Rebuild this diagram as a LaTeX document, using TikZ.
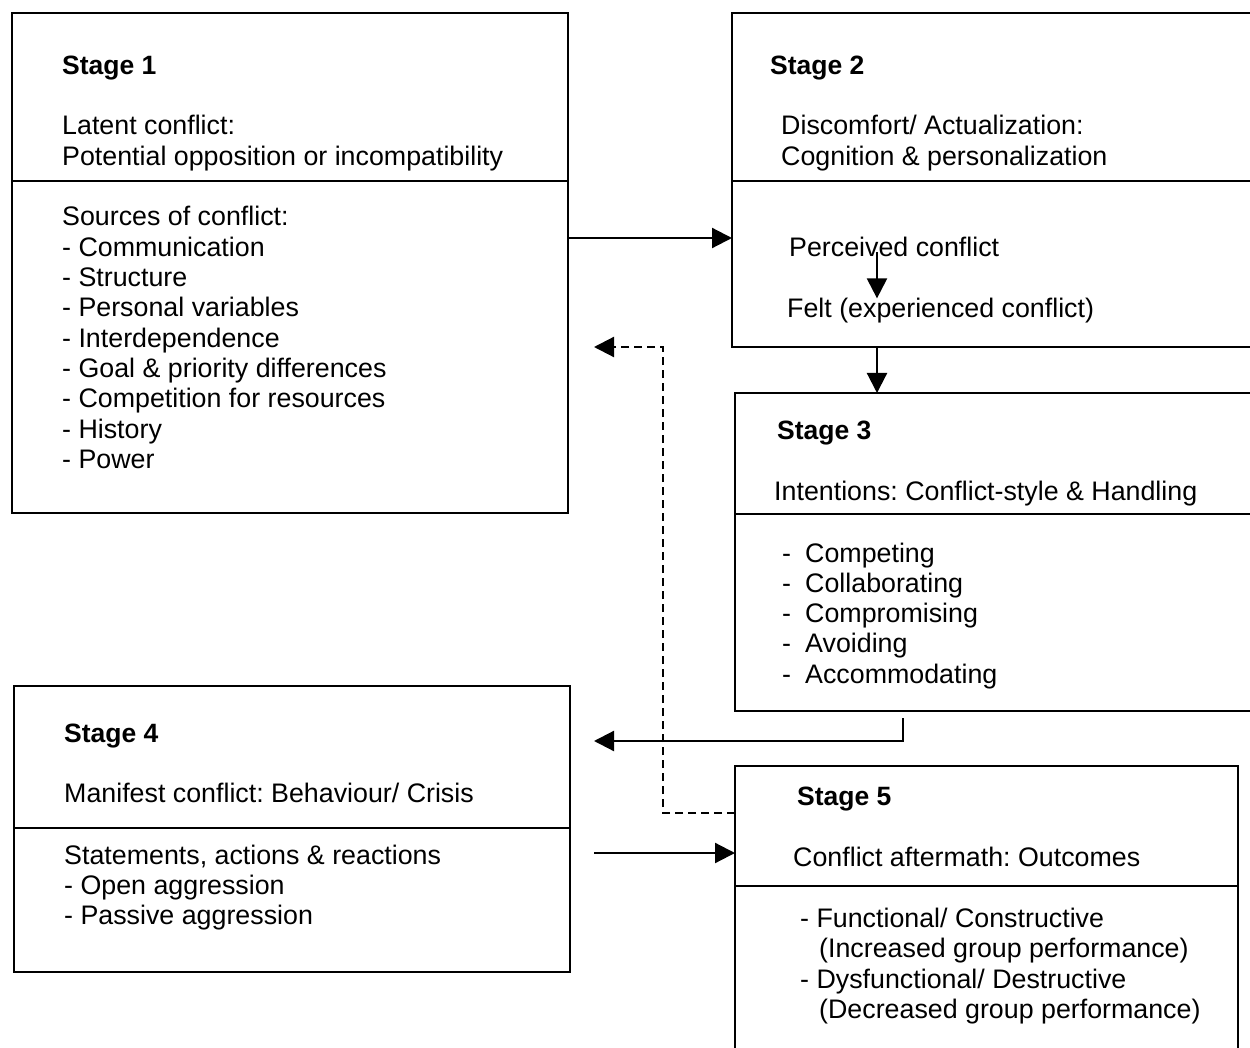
\documentclass[tikz,border=0pt]{standalone}
\usepackage{fontspec}
\setmainfont{Liberation Sans}
\usetikzlibrary{arrows.meta}
\frenchspacing
\begin{document}
\begin{tikzpicture}[x=1pt,y=-1pt,
  panel/.style={inner sep=0pt, outer sep=0pt, anchor=north west},
  closedpanel/.style={panel, draw, line width=2.2pt},
  rule/.style={line width=2.2pt},
  txt/.style={anchor=base west, inner sep=0pt, font=\fontsize{26.8}{30}\selectfont},
  head/.style={txt, font=\fontsize{26.5}{30}\selectfont\bfseries},
  arr/.style={line width=2.2pt, -{Triangle[length=20pt,width=20pt]}},
  dasharr/.style={arr, dash pattern=on 8pt off 5pt}]

\fill[white] (0,0) rectangle (1250,1048);
\useasboundingbox (0,0) rectangle (1250,1048);

% ---- frames -------------------------------------------------------------
\node[closedpanel, minimum width=556pt, minimum height=500pt] (s1) at (12,13) {};
\node[panel, minimum width=518pt, minimum height=334pt] (s2) at (732,13) {};
\node[panel, minimum width=515pt, minimum height=318pt] (s3) at (735,393) {};
\node[closedpanel, minimum width=556pt, minimum height=286pt] (s4) at (14,686) {};
\node[panel, minimum width=503pt, minimum height=282pt] (s5) at (735,766) {};

% frames running off the page edge
\draw[rule] (s2.north east) -- (s2.north west) -- (s2.south west) -- (s2.south east);
\draw[rule] (s3.north east) -- (s3.north west) -- (s3.south west) -- (s3.south east);
\draw[rule] (s5.south west) -- (s5.north west) -- (s5.north east) -- (s5.south east);

% dividers
\draw[rule] (s1.west |- 0,181) -- (s1.east |- 0,181);
\draw[rule] (s2.west |- 0,181) -- (s2.east |- 0,181);
\draw[rule] (s3.west |- 0,514) -- (s3.east |- 0,514);
\draw[rule] (s4.west |- 0,828) -- (s4.east |- 0,828);
\draw[rule] (s5.west |- 0,886) -- (s5.east |- 0,886);

% ---- Stage 1 ------------------------------------------------------------
\node[head] (h1) at (62,75) {Stage 1};
\node[txt] (t1a) at (62,135) {Latent conflict:};
\node[txt] (t1b) at (62,166) {Potential opposition or incompatibility};
\foreach \s [count=\i] in {Sources of conflict:, - Communication, - Structure,
    - Personal variables, - Interdependence, - Goal \& priority differences,
    - Competition for resources, - History, - Power}
  \node[txt] (l1-\i) at (62,{226+30.3*(\i-1)}) {\s};

% ---- Stage 2 ------------------------------------------------------------
\node[head] (h2) at (770,75) {Stage 2};
\node[txt] (t2a) at (781,135) {Discomfort/ Actualization:};
\node[txt] (t2b) at (781,166) {Cognition \& personalization};
\node[txt] (perc) at (789,257) {Perceived conflict};
\node[txt] (felt) at (787,318) {Felt (experienced conflict)};

% ---- Stage 3 ------------------------------------------------------------
\node[head] (h3) at (777,439) {Stage 3};
\node[txt] (t3a) at (774,500) {Intentions: Conflict-style \& Handling};
\foreach \s [count=\i] in {Competing, Collaborating, Compromising, Avoiding,
    Accommodating}
  \node[txt] (l3-\i) at (782,{562+30.3*(\i-1)}) {\makebox[23pt][l]{-}\s};

% ---- Stage 4 ------------------------------------------------------------
\node[head] (h4) at (64,742) {Stage 4};
\node[txt] (t4a) at (64,802) {Manifest conflict: Behaviour/ Crisis};
\foreach \s [count=\i] in {{Statements, actions \& reactions}, - Open aggression,
    - Passive aggression}
  \node[txt] (l4-\i) at (64,{864+30.3*(\i-1)}) {\s};

% ---- Stage 5 ------------------------------------------------------------
\node[head] (h5) at (797,805) {Stage 5};
\node[txt] (t5a) at (793,866) {Conflict aftermath: Outcomes};
\node[txt] (l5-1) at (800,927) {- Functional/ Constructive};
\node[txt] (l5-2) at (819,957) {(Increased group performance)};
\node[txt] (l5-3) at (800,988) {- Dysfunctional/ Destructive};
\node[txt] (l5-4) at (819,1018) {(Decreased group performance)};

% ---- connectors ---------------------------------------------------------
\coordinate (ax) at (877,0);
\coordinate (b34) at (903,741);
\coordinate (e34) at (594,741);
\coordinate (bend) at (663,347);
\coordinate (e51) at (594,347);
\coordinate (b45) at (594,853);

\draw[arr] (s1.east |- 0,238) -- (s2.west |- 0,238);
\draw[arr] ([yshift=5pt]perc.south -| ax) -- (felt.north -| ax);
\draw[arr] (s2.south -| ax) -- (s3.north -| ax);
\draw[arr] ([yshift=-7pt]s3.south -| b34) -- (b34) -- (e34);
\draw[dasharr] (s5.west |- 0,813) -| (bend) -- (e51);
\draw[arr] (b45) -- (s5.west |- b45);
\end{tikzpicture}
\end{document}
